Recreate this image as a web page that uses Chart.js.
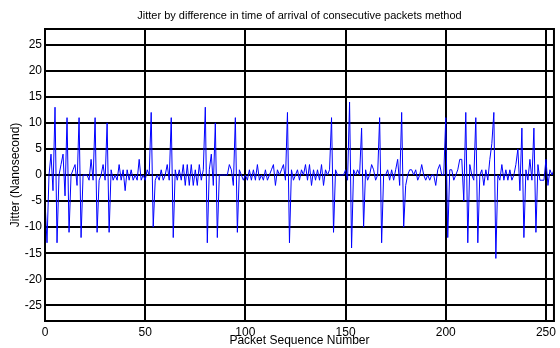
<!DOCTYPE html>
<html>
<head>
<meta charset="utf-8">
<script src="https://cdn.jsdelivr.net/npm/chart.js@4.4.1/dist/chart.umd.min.js"></script>
<style>
html,body{margin:0;padding:0;background:#ffffff;}
#wrap{width:560px;height:348px;position:relative;}
</style>
</head>
<body>
<div id="wrap"><canvas id="c" width="560" height="348"></canvas></div>
<script>
const chartTitle = "Jitter by difference in time of arrival of consecutive packets method";
const xAxisLabel = "Packet Sequence Number";
const yAxisLabel = "Jitter (Nanosecond)";
const xTickValues = [0, 50, 100, 150, 200, 250];
const yTickValues = [-25, -20, -15, -10, -5, 0, 5, 10, 15, 20, 25];
const xRange = [0, 254];
const yRange = [-28, 28];

// Jitter values, packet 0 .. 254
const jitter = [
  -5, -13, 0, 4, -3, 13, -13, 0, 2, 4,
  -4, 11, -11, 0, 1, 2, -2, 11, -12, 0,
  0, 0, -1, 3, -1, 11, -11, -1, 0, 2,
  -1, 10, -11, 1, -1, 0, -1, 2, -1, 1,
  -3, 1, -1, 1, -1, 0, -1, 3, -1, 0,
  -1, 1, 0, 12, -10, -1, 0, -1, 1, -1,
  0, 2, -1, 11, -12, 1, -1, 1, -1, 2,
  -2, 2, -2, 2, -2, 1, -2, 2, -1, 1,
  13, -13, 1, 4, -2, 10, -12, 0, 0, 0,
  0, 0, 2, 1, -2, 11, -11, 1, 0, -1,
  0, -1, 1, -1, 1, -1, 2, -1, 0, -1,
  1, -1, 0, 1, 2, -2, 1, 0, 1, 2,
  -1, 12, -13, 1, -1, 0, 1, -1, 1, 0,
  2, -1, 2, -2, 1, -1, 1, -1, 2, -2,
  1, 0, 1, 11, -11, 1, 0, 0, 0, 0,
  1, -1, 14, -14, 1, 0, 1, 0, 9, -10,
  1, -1, 0, 2, 1, -1, 0, 11, -13, 0,
  0, 1, -1, 1, -1, 1, 3, -2, 12, -10,
  -2, 0, 1, 1, 0, 1, -1, 0, 2, 0,
  -1, 0, -1, 0, 0, -2, 1, 2, 0, 0,
  11, -12, 1, 1, -1, 0, 1, 3, 3, -5,
  12, -13, 2, 0, -1, 11, -13, 0, 1, -2,
  1, -1, 3, 6, 12, -16, 0, -1, 2, -1,
  1, -1, 1, -1, 0, 2, 5, -3, 9, -12,
  1, -1, 3, -1, 9, -11, 2, -1, -1, -1,
  3, -2, 1, 0, 1
];

const FONT = "'Liberation Sans', Arial, Helvetica, sans-serif";

const framePlugin = {
  id: 'matlabFrame',
  afterDatasetsDraw(chart) {
    const {ctx, chartArea: a} = chart;
    ctx.save();
    ctx.strokeStyle = '#000000';
    ctx.lineWidth = 2;
    ctx.strokeRect(a.left, a.top, a.right - a.left, a.bottom - a.top);
    ctx.restore();
  },
  afterDraw(chart) {
    const {ctx, chartArea: a} = chart;
    ctx.save();
    ctx.fillStyle = '#000000';
    ctx.font = '11px ' + FONT;
    ctx.textAlign = 'center';
    ctx.textBaseline = 'middle';
    ctx.fillText(chartTitle, (a.left + a.right) / 2, 16);
    ctx.restore();
  }
};

new Chart(document.getElementById('c'), {
  type: 'line',
  data: {
    datasets: [{
      label: yAxisLabel,
      data: jitter.map((v, i) => ({x: i, y: v})),
      borderColor: '#0000ff',
      borderWidth: 1,
      pointRadius: 0,
      tension: 0,
      fill: false
    }]
  },
  options: {
    responsive: false,
    animation: false,
    devicePixelRatio: 1,
    layout: {padding: {top: 29, left: 0, right: 3, bottom: 0}},
    plugins: {
      legend: {display: false},
      title: {display: false},
      tooltip: {enabled: false}
    },
    scales: {
      x: {
        type: 'linear',
        min: xRange[0],
        max: xRange[1],
        afterBuildTicks(scale) { scale.ticks = xTickValues.map(v => ({value: v})); },
        afterFit(scale) { scale.height = 27; },
        grid: {color: '#000000', lineWidth: 2, drawTicks: false},
        border: {display: false},
        ticks: {color: '#000000', font: {family: FONT, size: 12}, padding: 4, maxRotation: 0, autoSkip: false},
        title: {display: true, text: xAxisLabel, color: '#000000', font: {family: FONT, size: 12}, padding: {top: 0, bottom: 0}}
      },
      y: {
        type: 'linear',
        min: yRange[0],
        max: yRange[1],
        afterBuildTicks(scale) { scale.ticks = yTickValues.map(v => ({value: v})); },
        afterFit(scale) { scale.width = 45; },
        grid: {color: '#000000', lineWidth: 2, drawTicks: false},
        border: {display: false},
        ticks: {color: '#000000', font: {family: FONT, size: 12}, padding: 3, autoSkip: false},
        title: {display: true, text: yAxisLabel, color: '#000000', font: {family: FONT, size: 12}, padding: {top: 8, bottom: 0}}
      }
    }
  },
  plugins: [framePlugin]
});
</script>
</body>
</html>
